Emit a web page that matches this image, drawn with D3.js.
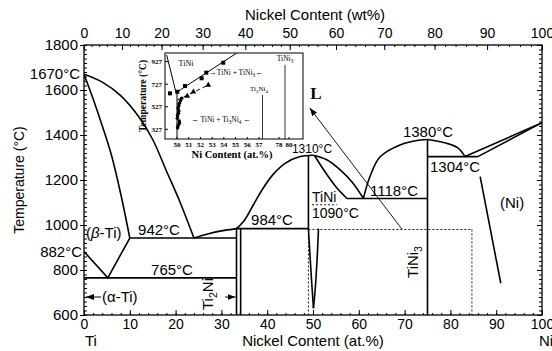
<!DOCTYPE html>
<html>
<head>
<meta charset="utf-8">
<script src="https://cdn.jsdelivr.net/npm/d3@7"></script>
<style>
  body { margin: 0; background: #fff; }
  svg { display: block; font-family: "Liberation Sans", Arial, sans-serif; }
</style>
</head>
<body>
<svg width="552" height="351"></svg>
<script>
// axis values
const atTicks = [0, 10, 20, 30, 40, 50, 60, 70, 80, 90, 100];
const wtTicks = [0, 10, 20, 30, 40, 50, 60, 70, 80, 90, 100];
const tempTicks = [600, 800, 1000, 1200, 1400, 1600, 1800];

// phase boundaries as [at.% Ni, temperature °C]
const liquidusTi = [[0, 1670], [4, 1635], [8, 1575], [12, 1480], [15, 1380], [18, 1240], [21, 1100], [24, 942]];
const solidusTi = [[0, 1670], [2, 1560], [4, 1440], [6, 1310], [8, 1140], [10, 942]];
const betaSolvus = [[0, 882], [5.2, 765], [10, 942]];
const eutectic942 = [[10, 942], [33.3, 942]];
const eutectoid765 = [[0, 765], [33.3, 765]];
const liquidusTi2Ni = [[24, 942], [27, 960], [30, 974], [33.3, 984]];
const peritectic984 = [[33.3, 984], [49, 984]];
const ti2NiLeft = [[33.3, 984], [33.3, 600]];
const ti2NiRight = [[34.2, 984], [34.2, 600]];
const liquidusTiNiLeft = [[33.3, 984], [35, 1020], [37, 1090], [39, 1160], [41.3, 1225], [44, 1275], [47, 1303], [50, 1310]];
const liquidusTiNiRight = [[50, 1310], [53, 1290], [56, 1244], [58.7, 1187], [61, 1118]];
const tiNiLeft = [[49, 1310], [49, 984], [49.3, 880], [49.7, 750], [50.1, 630]];
const tiNiRightHigh = [[50.3, 1310], [52.5, 1240], [55, 1170], [57.4, 1118]];
const tiNiRightLow = [[51.2, 984], [50.9, 850], [50.5, 720], [50.1, 630]];
const eutectic1118 = [[57.4, 1118], [75, 1118]];
const liquidusTiNi3Left = [[61, 1118], [62.4, 1213], [64.6, 1302], [69, 1356], [73.4, 1378], [75, 1380]];
const liquidusTiNi3Right = [[75, 1380], [79.2, 1363], [81.7, 1342], [83.2, 1304]];
const tiNi3Line = [[75, 1380], [75, 600]];
const peritectic1304 = [[75, 1304], [86, 1304]];
const liquidusNi = [[83.2, 1304], [100, 1455]];
const solidusNi = [[86, 1304], [100, 1455]];
const solvusNi = [[86.5, 1215], [91, 741]];
const dottedOrder = [[49.8, 1090], [55.2, 1090]];
const dottedTop = [[49, 980], [84.7, 980]];
const dottedLeft = [[49, 980], [49, 600]];
const dottedRight = [[84.7, 980], [84.7, 600]];
const zoomPointer = [[69.4, 982], [49.3, 1520]];

// inset data
const insetTTicks = [327, 527, 727, 927];
const insetAtTicks = [50, 51, 52, 53, 54, 55, 56, 57];
const insetAtTicksHigh = [78, 80];
const insetLeftBoundary = [[49.12, 986], [49.9, 660], [50, 640], [50, 240]];
const insetSolvus = [[50.03, 660], [55.1, 1004]];
const insetSquares = [[49.4, 646], [50.03, 660], [50.68, 711], [52.1, 780], [52.5, 830], [53.95, 918]];
const insetTriLine = [[50.03, 587], [52.67, 720]];
const insetTriangles = [[50.88, 622], [51.4, 660], [52.67, 720]];
const insetDots = [[50.4, 602], [50.3, 580], [50.2, 558], [50.15, 535], [50.1, 513], [50.15, 490],
  [50.12, 470], [50.05, 448], [50.03, 425], [50.2, 400], [50.2, 380], [50.1, 360], [50.05, 340]];
const ti3Ni4Line = [[57.3, 631], [57.3, 240]];
const tiNi3InsetLine = [[79.2, 900], [79.2, 240]];

let margin = { top: 45, right: 10, bottom: 36, left: 84 },
  width = 552 - margin.left - margin.right,
  height = 351 - margin.top - margin.bottom;

let svg = d3.select("svg");

const x = d3.scaleLinear().domain([0, 100]).range([margin.left, margin.left + width]);
const y = d3.scaleLinear().domain([600, 1800]).range([margin.top + height, margin.top]);

// wt.% -> at.% for the top axis
function wtToAt(w) {
  const ni = w / 58.69, ti = (100 - w) / 47.87;
  return (100 * ni) / (ni + ti);
}
const xw = d3.scaleLinear().domain(wtTicks).range(wtTicks.map((w) => x(wtToAt(w))));

const defs = svg.append("defs");
defs.append("clipPath").attr("id", "plotClip")
  .append("rect").attr("x", margin.left).attr("y", margin.top).attr("width", width).attr("height", height);
defs.append("marker").attr("id", "arrow")
  .attr("viewBox", "0 0 8 6").attr("refX", 8).attr("refY", 3)
  .attr("markerWidth", 8).attr("markerHeight", 6).attr("markerUnits", "userSpaceOnUse")
  .attr("orient", "auto")
  .append("path").attr("d", "M0,0L8,3L0,6z").attr("fill", "black");

drawAxes();
drawDiagram();
drawLabels();
drawInset();

function drawAxes() {
  const fmt = d3.format("d");
  const bottom = svg.append("g").attr("transform", `translate(0,${margin.top + height})`);
  bottom.call(d3.axisBottom(x).tickValues(d3.range(0, 101, 2)).tickSize(-2).tickFormat(""));
  bottom.append("g").call(d3.axisBottom(x).tickValues(atTicks).tickSizeInner(-5).tickSizeOuter(0).tickPadding(4).tickFormat(fmt));

  const top = svg.append("g").attr("transform", `translate(0,${margin.top})`);
  top.call(d3.axisTop(xw).tickValues(d3.range(0, 101, 2)).tickSize(-2).tickFormat(""));
  top.append("g").call(d3.axisTop(xw).tickValues(wtTicks).tickSizeInner(-5).tickSizeOuter(0).tickPadding(7).tickFormat(fmt));

  const left = svg.append("g").attr("transform", `translate(${margin.left},0)`);
  left.call(d3.axisLeft(y).tickValues(d3.range(600, 1801, 20)).tickSize(-3).tickFormat(""));
  left.append("g").call(d3.axisLeft(y).tickValues(tempTicks).tickSizeInner(4).tickSizeOuter(0).tickPadding(2).tickFormat(fmt));

  const right = svg.append("g").attr("transform", `translate(${margin.left + width},0)`);
  right.call(d3.axisRight(y).tickValues(d3.range(600, 1801, 20)).tickSize(-3).tickFormat(""));
  right.append("g").call(d3.axisRight(y).tickValues(tempTicks).tickSize(-5).tickFormat(""));

  svg.selectAll(".domain").remove();
  svg.selectAll(".tick line").attr("stroke", "black");
  svg.selectAll(".tick text").attr("font-size", 14).attr("font-family", "Liberation Sans, Arial, sans-serif").attr("fill", "black");
  left.selectAll(".tick text").attr("font-size", 15);

  svg.append("rect")
    .attr("x", margin.left).attr("y", margin.top).attr("width", width).attr("height", height)
    .attr("fill", "none").attr("stroke", "black").attr("stroke-width", 1.3);

  svg.append("text").attr("x", 315).attr("y", 20).attr("text-anchor", "middle")
    .attr("font-size", 15).text("Nickel Content (wt%)");
  svg.append("text").attr("x", 313).attr("y", 346).attr("text-anchor", "middle")
    .attr("font-size", 15).text("Nickel Content (at.%)");
  svg.append("text").attr("x", 85).attr("y", 346).attr("font-size", 15).text("Ti");
  svg.append("text").attr("x", 539).attr("y", 346).attr("font-size", 15).text("Ni");
  svg.append("text").attr("transform", "translate(24,180) rotate(-90)").attr("text-anchor", "middle")
    .attr("font-size", 14).text("Temperature (°C)");
}

function drawDiagram() {
  const straight = d3.line().x((d) => x(d[0])).y((d) => y(d[1]));
  const smooth = d3.line().x((d) => x(d[0])).y((d) => y(d[1])).curve(d3.curveCatmullRom.alpha(0.5));
  const g = svg.append("g").attr("clip-path", "url(#plotClip)")
    .attr("fill", "none").attr("stroke", "black").attr("stroke-width", 1.6);

  [betaSolvus, eutectic942, eutectoid765, peritectic984, ti2NiLeft, ti2NiRight, tiNiLeft,
    eutectic1118, tiNi3Line, peritectic1304, liquidusNi, solidusNi, solvusNi].forEach((d) => {
    g.append("path").attr("d", straight(d));
  });
  [liquidusTi, solidusTi, liquidusTi2Ni, liquidusTiNiLeft, liquidusTiNiRight, tiNiRightHigh,
    tiNiRightLow, liquidusTiNi3Left, liquidusTiNi3Right].forEach((d) => {
    g.append("path").attr("d", smooth(d));
  });
  [dottedOrder, dottedTop, dottedLeft, dottedRight].forEach((d) => {
    g.append("path").attr("d", straight(d)).attr("stroke-width", 0.9).attr("stroke-dasharray", "2,2");
  });
  g.append("path").attr("d", straight(zoomPointer)).attr("stroke-width", 0.9).attr("marker-end", "url(#arrow)");
}

// parts: plain strings or {sub: "3"} for a subscript
function addLabel(parent, px, py, parts, size, anchor, family) {
  const t = parent.append("text").attr("x", px).attr("y", py)
    .attr("font-size", size).attr("text-anchor", anchor || "start");
  if (family) t.attr("font-family", family);
  let shifted = false;
  parts.forEach((p) => {
    if (typeof p === "string") {
      t.append("tspan").attr("dy", shifted ? -size * 0.25 : null).text(p);
      shifted = false;
    } else {
      t.append("tspan").attr("font-size", size * 0.7).attr("dy", size * 0.25).text(p.sub);
      shifted = true;
    }
  });
  return t;
}

function drawLabels() {
  const s = 15;
  addLabel(svg, 80, y(1670) + 5, ["1670°C"], s, "end");
  addLabel(svg, 82, y(882) + 5, ["882°C"], s, "end");
  const beta = addLabel(svg, 86, 238, ["("], s);
  beta.append("tspan").attr("font-style", "italic").text("β");
  beta.append("tspan").text("-Ti)");
  addLabel(svg, 159, 235, ["942°C"], s, "middle");
  addLabel(svg, 172, 275, ["765°C"], s, "middle");
  addLabel(svg, 102, 302, ["(α-Ti)"], s);
  svg.append("line").attr("x1", 101).attr("x2", x(0) + 2).attr("y1", 297).attr("y2", 297)
    .attr("stroke", "black").attr("marker-end", "url(#arrow)");
  const ti2ni = svg.append("g").attr("transform", "translate(213,294) rotate(-90)");
  addLabel(ti2ni, 0, 0, ["Ti", { sub: "2" }, "Ni"], s, "middle");
  svg.append("line").attr("x1", 225).attr("x2", x(33.3) - 1).attr("y1", 297).attr("y2", 297)
    .attr("stroke", "black").attr("marker-end", "url(#arrow)");
  addLabel(svg, 272, 225, ["984°C"], s, "middle");
  addLabel(svg, 312, 153, ["1310°C"], 12, "middle");
  addLabel(svg, 312, 202, ["TiNi"], 14);
  addLabel(svg, 312, 218, ["1090°C"], 14);
  addLabel(svg, 370, 196, ["1118°C"], s);
  addLabel(svg, 428, 137, ["1380°C"], s, "middle");
  addLabel(svg, 430, 172, ["1304°C"], s);
  addLabel(svg, 500, 208, ["(Ni)"], s);
  const tini3 = svg.append("g").attr("transform", "translate(418,262) rotate(-90)");
  addLabel(tini3, 0, 0, ["TiNi", { sub: "3" }], s, "middle");
  svg.append("text").attr("x", 316).attr("y", 99).attr("text-anchor", "middle")
    .attr("font-family", "Liberation Serif, serif").attr("font-weight", "bold").attr("font-size", 17).text("L");
}

function drawInset() {
  const box = { x: 165, y: 53, w: 138, h: 86 };
  const ix = d3.scaleLinear().domain([50, 57]).range([177, 259]);
  const ix2 = d3.scaleLinear().domain([78, 80]).range([279, 289]);
  const iy = d3.scaleLinear().domain([327, 927]).range([129.3, 61.7]);
  const serif = "Liberation Serif, serif";

  defs.append("clipPath").attr("id", "insetClip")
    .append("rect").attr("x", box.x).attr("y", box.y).attr("width", box.w).attr("height", box.h);

  const g = svg.append("g");
  g.append("rect").attr("x", box.x).attr("y", box.y).attr("width", box.w).attr("height", box.h)
    .attr("fill", "white").attr("stroke", "black").attr("stroke-width", 1);

  const inner = g.append("g").attr("clip-path", "url(#insetClip)")
    .attr("fill", "none").attr("stroke", "black").attr("stroke-width", 1);
  const line = d3.line().x((d) => ix(d[0])).y((d) => iy(d[1]));
  const line2 = d3.line().x((d) => ix2(d[0])).y((d) => iy(d[1]));
  inner.append("path").attr("d", line(insetLeftBoundary));
  inner.append("path").attr("d", line(insetSolvus));
  inner.append("path").attr("d", line(insetTriLine)).attr("stroke-dasharray", "4,3");
  inner.append("path").attr("d", line(ti3Ni4Line)).attr("stroke-width", 0.8);
  inner.append("path").attr("d", line2(tiNi3InsetLine)).attr("stroke-width", 0.8);

  inner.selectAll("rect.sq").data(insetSquares).enter().append("rect")
    .attr("x", (d) => ix(d[0]) - 2).attr("y", (d) => iy(d[1]) - 2)
    .attr("width", 4).attr("height", 4).attr("fill", "black").attr("stroke", "none");
  inner.selectAll("path.tri").data(insetTriangles).enter().append("path")
    .attr("d", d3.symbol().type(d3.symbolTriangle).size(14))
    .attr("transform", (d) => `translate(${ix(d[0])},${iy(d[1])})`)
    .attr("fill", "black").attr("stroke", "none");
  inner.selectAll("circle").data(insetDots).enter().append("circle")
    .attr("cx", (d) => ix(d[0])).attr("cy", (d) => iy(d[1])).attr("r", 1.8)
    .attr("fill", "black").attr("stroke", "none");

  // ticks
  insetTTicks.forEach((t) => {
    g.append("line").attr("x1", box.x).attr("x2", box.x + 3).attr("y1", iy(t)).attr("y2", iy(t)).attr("stroke", "black");
    g.append("text").attr("x", box.x - 3).attr("y", iy(t) + 2.5).attr("text-anchor", "end")
      .attr("font-family", serif).attr("font-weight", "bold").attr("font-size", 7).text(t);
  });
  insetAtTicks.forEach((t) => {
    g.append("line").attr("x1", ix(t)).attr("x2", ix(t)).attr("y1", box.y + box.h).attr("y2", box.y + box.h - 2).attr("stroke", "black");
    g.append("text").attr("x", ix(t)).attr("y", box.y + box.h + 8).attr("text-anchor", "middle")
      .attr("font-family", serif).attr("font-weight", "bold").attr("font-size", 7).text(t);
  });
  insetAtTicksHigh.forEach((t) => {
    g.append("line").attr("x1", ix2(t)).attr("x2", ix2(t)).attr("y1", box.y + box.h).attr("y2", box.y + box.h - 2).attr("stroke", "black");
    g.append("text").attr("x", ix2(t)).attr("y", box.y + box.h + 8).attr("text-anchor", "middle")
      .attr("font-family", serif).attr("font-weight", "bold").attr("font-size", 7).text(t);
  });

  addLabel(g, 186, 66, ["TiNi"], 8, "middle", serif);
  addLabel(g, 236, 75, ["→TiNi + TiNi", { sub: "3" }, "←"], 7.5, "middle", serif);
  addLabel(g, 259, 91, ["Ti", { sub: "3" }, "Ni", { sub: "4" }], 7, "middle", serif);
  addLabel(g, 285, 61, ["TiNi", { sub: "3" }], 7.5, "middle", serif);
  addLabel(g, 221, 122, ["→ TiNi + Ti", { sub: "3" }, "Ni", { sub: "4" }, " ←"], 7.5, "middle", serif);
  addLabel(g, 232, 158, ["Ni Content (at.%)"], 10.5, "middle", serif).attr("font-weight", "bold");
  g.append("text").attr("transform", "translate(146,96) rotate(-90)").attr("text-anchor", "middle")
    .attr("font-family", serif).attr("font-weight", "bold").attr("font-size", 9.5).text("Temperature (°C)");
}
</script>
</body>
</html>
